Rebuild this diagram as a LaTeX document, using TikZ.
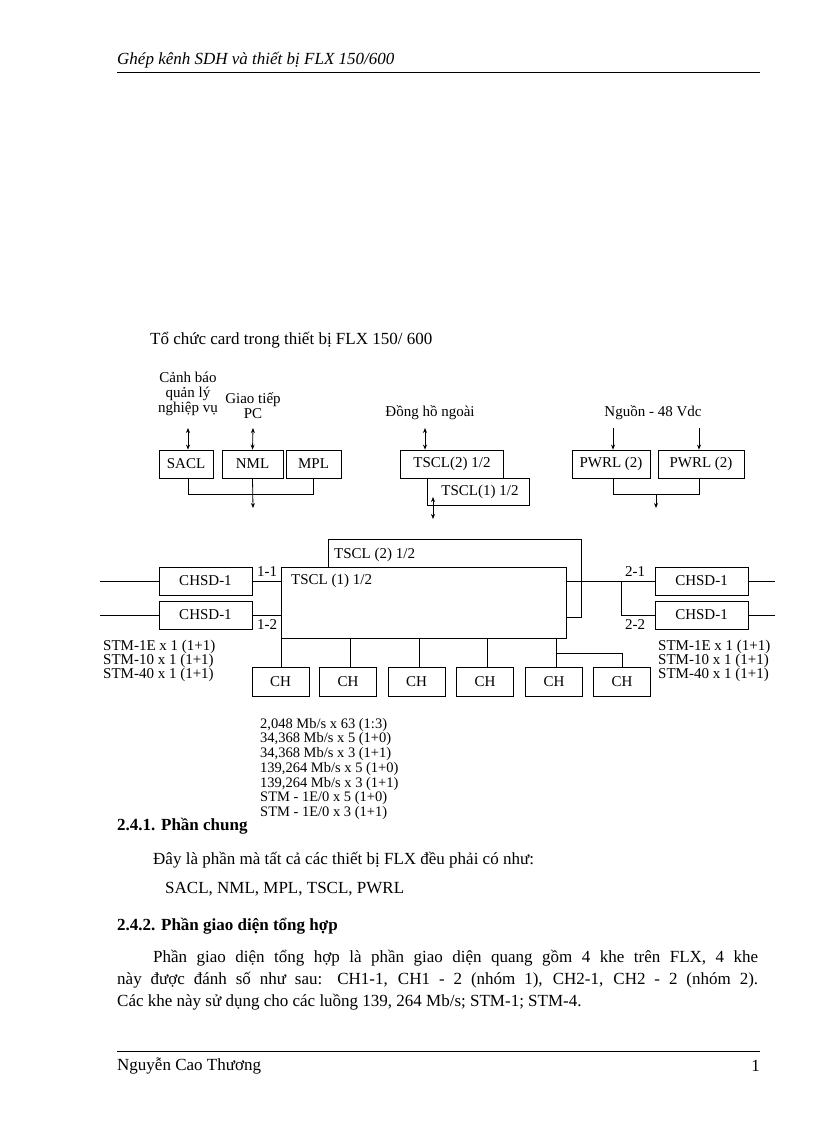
\documentclass[tikz,border=0pt]{standalone}
\usepackage{fontspec}
\setmainfont{Liberation Serif}
\usetikzlibrary{arrows.meta}
\begin{document}
\begin{tikzpicture}[x=1pt,y=-1pt,
  box/.style={draw,thick,minimum height=0pt,inner sep=0pt,font=\fontsize{15}{17}\selectfont},
  lab/.style={font=\fontsize{15}{16}\selectfont,inner sep=0pt},
  body/.style={font=\fontsize{17}{22}\selectfont,inner sep=0pt,anchor=west},
  ln/.style={thick},
  arr/.style={thick,-{Stealth[length=5pt,width=4pt]}},
  darr/.style={thick,{Stealth[length=5pt,width=4pt]}-{Stealth[length=5pt,width=4pt]}}]
\useasboundingbox[fill=white] (0,0) rectangle (816,1123);
% header/footer
\node[anchor=west,inner sep=0pt,font=\fontsize{17}{18}\selectfont\itshape] (hdr) at (117,60) {Ghép kênh SDH và thiết bị FLX 150/600};
\coordinate (h1) at (117,72); \coordinate (h2) at (760,72);
\draw (h1) -- (h2);
\coordinate (f1) at (117,1051); \coordinate (f2) at (760,1051);
\draw (f1) -- (f2);
\node[body] (ftr) at (117,1066) {Nguyễn Cao Thương};
\node[body,anchor=east] (pg) at (760,1066) {1};
% title
\node[anchor=west,inner sep=0pt,font=\fontsize{17}{18}\selectfont] (title) at (150,340) {Tổ chức card trong thiết bị FLX 150/ 600};
% top boxes
\node[box,minimum width=54pt,minimum height=28pt] (sacl) at (186,464) {SACL};
\node[box,minimum width=61pt,minimum height=28pt] (nml) at (252.5,464) {NML};
\node[box,minimum width=55pt,minimum height=28pt] (mpl) at (313.5,464) {MPL};
\node[lab,align=center] (canh) at (188,394) {Cảnh báo\\[-1pt]quản lý\\[-1pt]nghiệp vụ};
\node[lab,align=center] (gt) at (253,406) {Giao tiếp\\[-1pt]PC};
\coordinate (a1) at (188,428); \coordinate (a2) at (253,428);
\draw[darr] (a1) -- (sacl.north -| a1);
\draw[darr] (a2) -- (nml.north);
\coordinate (b1) at (188,494); \coordinate (b2) at (313,494); \coordinate (b3) at (253,508);
\draw[ln] (sacl.south -| b1) -- (b1) -- (b2) -- (mpl.south -| b2);
\draw[arr] (nml.south) -- (b3);
% TSCL top
\node[box,minimum width=103pt,minimum height=28pt] (t2) at (452,464) {TSCL(2) 1/2};
\node[box,minimum width=102pt,minimum height=27pt,fill=white] (t1) at (478,492) {\hspace*{4pt}TSCL(1) 1/2};
\node[lab] (dh) at (430,413) {Đồng hồ ngoài};
\coordinate (c1) at (425,428);
\draw[darr] (c1) -- (t2.north -| c1);
\coordinate (c2) at (433,497); \coordinate (c3) at (433,519);
\draw[darr] (c2) -- (c3);
% power
\node[box,minimum width=78pt,minimum height=28pt] (p1) at (611,464) {PWRL (2)};
\node[box,minimum width=86pt,minimum height=28pt] (p2) at (701,464) {PWRL (2)};
\node[lab] (ng) at (653,413) {Nguồn - 48 Vdc};
\coordinate (d1) at (613,428); \coordinate (d2) at (699,428);
\draw[arr] (d1) -- (p1.north -| d1);
\draw[arr] (d2) -- (p2.north -| d2);
\coordinate (e1) at (613,494); \coordinate (e2) at (699,494); \coordinate (e3) at (656,494); \coordinate (e4) at (656,508);
\draw[ln] (p1.south -| e1) -- (e1) -- (e2) -- (p2.south -| e2);
\draw[arr] (e3) -- (e4);
% main block
\node[box,minimum width=285pt,minimum height=71pt,anchor=north west] (T1) at (281,567) {};
\node[lab,anchor=west] (T1l) at (291,581) {TSCL (1) 1/2};
\coordinate (g1) at (328,567); \coordinate (g2) at (328,539); \coordinate (g3) at (581,539); \coordinate (g4) at (581,617); \coordinate (g5) at (566,617);
\draw[ln] (g1) -- (g2) -- (g3) -- (g4) -- (g5);
\node[lab,anchor=west] (T2l) at (334,555) {TSCL (2) 1/2};
% CHSD left
\node[box,minimum width=93pt,minimum height=28pt] (cl1) at (205.5,581) {CHSD-1};
\node[box,minimum width=93pt,minimum height=28pt] (cl2) at (205.5,615) {CHSD-1};
\coordinate (l1) at (100,581); \coordinate (l2) at (100,615);
\draw[ln] (l1) -- (cl1.west); \draw[ln] (l2) -- (cl2.west);
\draw[ln] (cl1.east) -- (cl1.east -| T1.west);
\draw[ln] (cl2.east) -- (cl2.east -| T1.west);
\node[lab] (n11) at (267,572) {1-1};
\node[lab] (n12) at (267,625) {1-2};
% CHSD right
\node[box,minimum width=93pt,minimum height=28pt] (cr1) at (701.5,581) {CHSD-1};
\node[box,minimum width=93pt,minimum height=28pt] (cr2) at (701.5,615) {CHSD-1};
\coordinate (r1) at (775,581); \coordinate (r2) at (775,615);
\draw[ln] (cr1.east) -- (r1); \draw[ln] (cr2.east) -- (r2);
\draw[ln] (cr1.west -| T1.east) -- (cr1.west);
\coordinate (br) at (621,581);
\draw[ln] (br) -- (br |- cr2.west) -- (cr2.west);
\node[lab] (n21) at (635,572) {2-1};
\node[lab] (n22) at (635,625) {2-2};
% STM labels
\node[lab,anchor=north west,align=left] (stml) at (103,640) {STM-1E x 1 (1+1)\\[-2pt]STM-10 x 1 (1+1)\\[-2pt]STM-40 x 1 (1+1)};
\node[lab,anchor=north west,align=left] (stmr) at (658,640) {STM-1E x 1 (1+1)\\[-2pt]STM-10 x 1 (1+1)\\[-2pt]STM-40 x 1 (1+1)};
% CH boxes
\foreach \i/\x in {1/280.5,2/348,3/416.5,4/485,5/554,6/622}{
  \node[box,minimum width=57pt,minimum height=29pt] (ch\i) at (\x,681.5) {CH};
}
\foreach \i/\x in {1/281,2/350,3/419,4/487,5/556}{
  \coordinate (v\i) at (\x,638);
  \draw[ln] (v\i) -- (v\i |- ch\i.north);
}
\coordinate (k1) at (556,653); \coordinate (k2) at (622,653);
\draw[ln] (k1) -- (k2) -- (ch6.north);
% rates
\node[lab,anchor=north west,align=left,font=\fontsize{14.5}{14.7}\selectfont] (rates) at (260,718) {2,048 Mb/s x 63 (1:3)\\34,368 Mb/s x 5 (1+0)\\34,368 Mb/s x 3 (1+1)\\139,264 Mb/s x 5 (1+0)\\139,264 Mb/s x 3 (1+1)\\STM - 1E/0 x 5 (1+0)\\STM - 1E/0 x 3 (1+1)};
% body
\node[body,font=\fontsize{17}{22}\selectfont\bfseries] (h241) at (117,826) {2.4.1. Phần chung};
\node[body] (p1t) at (153,860) {Đây là phần mà tất cả các thiết bị FLX đều phải có như:};
\node[body] (p2t) at (165,889) {SACL, NML, MPL, TSCL, PWRL};
\node[body,font=\fontsize{17}{22}\selectfont\bfseries] (h242) at (117,926) {2.4.2. Phần giao diện tổng hợp};
\node[body,anchor=north west,text width=641pt,align=justify] (par) at (117,950) {\hspace*{36pt}Phần giao diện tổng hợp là phần giao diện quang gồm 4 khe trên FLX, 4 khe\linebreak này được đánh số như sau: CH1-1, CH1 - 2 (nhóm 1), CH2-1, CH2 - 2 (nhóm 2).\linebreak Các khe này sử dụng cho các luồng 139, 264 Mb/s; STM-1; STM-4.};
\end{tikzpicture}
\end{document}
